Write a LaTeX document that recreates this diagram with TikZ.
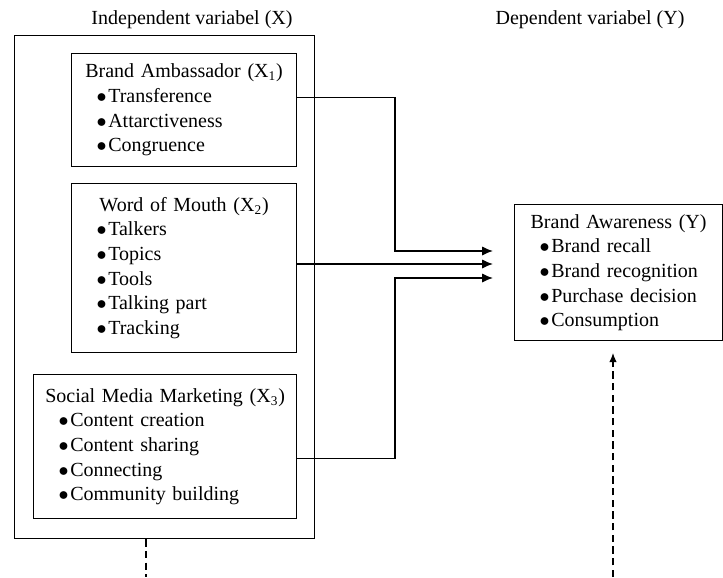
\documentclass[tikz,border=0pt]{standalone}
\usepackage{fontspec}
\setmainfont{Liberation Serif}
\usetikzlibrary{arrows.meta}

\newcommand{\bitem}[1]{\makebox[\linewidth][l]{\hspace*{15pt}$\bullet$\hspace{1pt}#1}}

\begin{document}
\begin{tikzpicture}[x=0.6pt, y=-0.6pt, font=\fontsize{12}{14.8}\selectfont,
  box/.style={draw, line width=0.7pt, inner sep=0pt, align=center, anchor=north west},
  flow/.style={line width=0.8pt, -{Latex[length=6.5pt,width=5.5pt]}},
  dashflow/.style={line width=0.7pt, dash pattern=on 4.5pt off 2.5pt}]

\useasboundingbox (0,0) rectangle (723,577);

\node (titleX) at (192,20) {Independent variabel (X)};
\node (titleY) at (590,20) {Dependent variabel (Y)};

\node[box, minimum width=180pt, minimum height=301.8pt] (outer) at (14,35) {};

\node[box, text width=135pt, minimum height=67.8pt] (ambassador) at (71,53) {Brand Ambassador (X\textsubscript{1})\\
  \bitem{Transference}\\ \bitem{Attarctiveness}\\ \bitem{Congruence}};

\node[box, text width=135pt, minimum height=101.4pt] (wom) at (71,183) {Word of Mouth (X\textsubscript{2})\\
  \bitem{Talkers}\\ \bitem{Topics}\\ \bitem{Tools}\\ \bitem{Talking part}\\ \bitem{Tracking}};

\node[box, text width=157.8pt, minimum height=86.4pt] (smm) at (33,374) {Social Media Marketing (X\textsubscript{3})\\
  \bitem{Content creation}\\ \bitem{Content sharing}\\ \bitem{Connecting}\\ \bitem{Community building}};

\node[box, text width=124.8pt, minimum height=81.6pt] (awareness) at (514,204) {Brand Awareness (Y)\\
  \bitem{Brand recall}\\ \bitem{Brand recognition}\\ \bitem{Purchase decision}\\ \bitem{Consumption}};

% arrow ends in front of Y
\coordinate (in1) at (493,251);
\coordinate (in2) at (493,264);
\coordinate (in3) at (493,278);

\draw[flow] ([yshift=7.5pt]ambassador.east) -| (395,251) -- (in1);
\draw[flow] (wom.east |- in2) -- (in2);
\draw[flow] ([yshift=-7.2pt]smm.east) -| (395,278) -- (in3);

% dashed lines at the bottom
\coordinate (d1) at (146,577);
\coordinate (d2) at (613,577);
\coordinate (d2top) at (613,353);

\draw[dashflow] (outer.south -| d1) -- (d1);
\draw[dashflow, -{Latex[length=5.5pt,width=4.5pt]}] (d2) -- (d2top);
\end{tikzpicture}
\end{document}
